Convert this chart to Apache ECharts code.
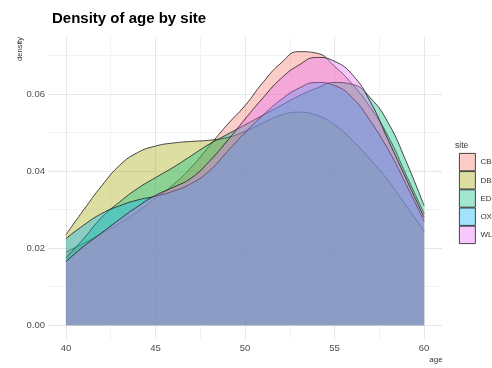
<!DOCTYPE html>
<html>
<head>
<meta charset="utf-8">
<script src="https://cdn.jsdelivr.net/npm/echarts@6/dist/echarts.min.js"></script>
<style>html,body{margin:0;padding:0;background:#fff}#c{width:492px;height:368px}</style>
</head>
<body>
<div id="c"></div>
<script>
const sites = ['CB', 'DB', 'ED', 'OX', 'WL'];
const ages = [40,41,42,43,44,45,46,47,48,49,50,51,52,53,54,55,56,57,58,59,60];
const densCB = [0.019,0.0213,0.0238,0.0265,0.0295,0.033,0.0365,0.041,0.0465,0.052,0.057,0.063,0.068,0.0710,0.0706,0.0672,0.0625,0.0565,0.049,0.039,0.029];
const densDB = [0.0235,0.030,0.0362,0.0415,0.0448,0.0465,0.0473,0.0477,0.048,0.0487,0.0503,0.0525,0.0545,0.0553,0.0545,0.052,0.048,0.043,0.0375,0.031,0.0244];
const densED = [0.0175,0.0225,0.028,0.032,0.0355,0.0383,0.041,0.044,0.047,0.0495,0.052,0.0545,0.057,0.0595,0.0615,0.063,0.0625,0.059,0.0525,0.0425,0.031];
const densOX = [0.0225,0.026,0.029,0.031,0.0325,0.0335,0.0348,0.0368,0.040,0.045,0.050,0.0545,0.0585,0.0615,0.063,0.0622,0.059,0.053,0.0455,0.0365,0.027];
const densWL = [0.0165,0.0205,0.024,0.0275,0.0308,0.0337,0.0358,0.0382,0.0425,0.0478,0.0535,0.059,0.064,0.0675,0.0695,0.0685,0.065,0.058,0.048,0.038,0.028];
const xMajor = [40,45,50,55,60];
const xMinor = [42.5,47.5,52.5,57.5];
const yMajor = [0,0.02,0.04,0.06];
const yMinor = [0.01,0.03,0.05,0.07];

const fills = ['#F8766D','#A3A500','#00BF7D','#00B0F6','#E76BF3'];
const alpha = 0.37;
const values = [densCB, densDB, densED, densOX, densWL];
function rgba(hex, a){const n=parseInt(hex.slice(1),16);return `rgba(${n>>16&255},${n>>8&255},${n&255},${a})`;}
const font = "'Liberation Sans', Arial, sans-serif";

const chart = echarts.init(document.getElementById('c'), null, {renderer:'canvas'});
chart.setOption({
  animation: false,
  title: {text:'Density of age by site', left:47, top:6, textStyle:{fontSize:15, fontWeight:'bold', color:'#000', fontFamily:font}},
  grid: {left:48, right:50, top:37, bottom:29, containLabel:false},
  xAxis: [
    {type:'value', min:39, max:61, axisLine:{show:false}, axisTick:{show:false, customValues:xMajor},
     axisLabel:{customValues:xMajor, color:'#4d4d4d', fontSize:9.5, margin:4, fontFamily:font},
     splitLine:{show:true, lineStyle:{color:'#e6e6e6', width:1}}},
    {type:'value', min:39, max:61, position:'top', axisLine:{show:false}, axisTick:{show:false, customValues:xMinor},
     axisLabel:{show:false, customValues:xMinor}, splitLine:{show:true, lineStyle:{color:'#f2f2f2', width:1}}}
  ],
  yAxis: [
    {type:'value', min:-0.00356, max:0.0748, axisLine:{show:false}, axisTick:{show:false, customValues:yMajor},
     axisLabel:{customValues:yMajor, formatter:v=>v.toFixed(2), color:'#4d4d4d', fontSize:9.5, margin:3, fontFamily:font},
     splitLine:{show:true, lineStyle:{color:'#e6e6e6', width:1}}},
    {type:'value', min:-0.00356, max:0.0748, position:'right', axisLine:{show:false}, axisTick:{show:false, customValues:yMinor},
     axisLabel:{show:false, customValues:yMinor}, splitLine:{show:true, lineStyle:{color:'#f2f2f2', width:1}}}
  ],
  legend: {
    orient:'vertical', left:459, top:153, padding:0, itemGap:0, itemWidth:16, itemHeight:17.4,
    textStyle:{fontSize:8, color:'#333', fontFamily:font},
    data: sites.map((s,i)=>({name:s, icon:'rect', itemStyle:{color:rgba(fills[i],alpha), borderColor:'#1a1a1a', borderWidth:0.8}}))
  },
  graphic: [
    {type:'text', left:455, top:141, style:{text:'site', fontSize:8.5, fill:'#333', fontFamily:font}},
    {type:'text', x:20, y:49, rotation:Math.PI/2, style:{text:'density', fontSize:7.5, fill:'#333', fontFamily:font, align:'center', verticalAlign:'middle'}},
    {type:'text', x:436, y:360, style:{text:'age', fontSize:8, fill:'#333', fontFamily:font, align:'center', verticalAlign:'middle'}}
  ],
  series: sites.map((s,i)=>({
    name:s, type:'line', smooth:0.5, symbol:'none', xAxisIndex:0, yAxisIndex:0, z:2+i,
    data: ages.map((a,j)=>[a, values[i][j]]),
    lineStyle:{color:'#1a1a1a', width:0.8},
    itemStyle:{color:fills[i]},
    areaStyle:{color:fills[i], opacity:alpha},
    emphasis:{disabled:true}
  }))
});
</script>
</body>
</html>
